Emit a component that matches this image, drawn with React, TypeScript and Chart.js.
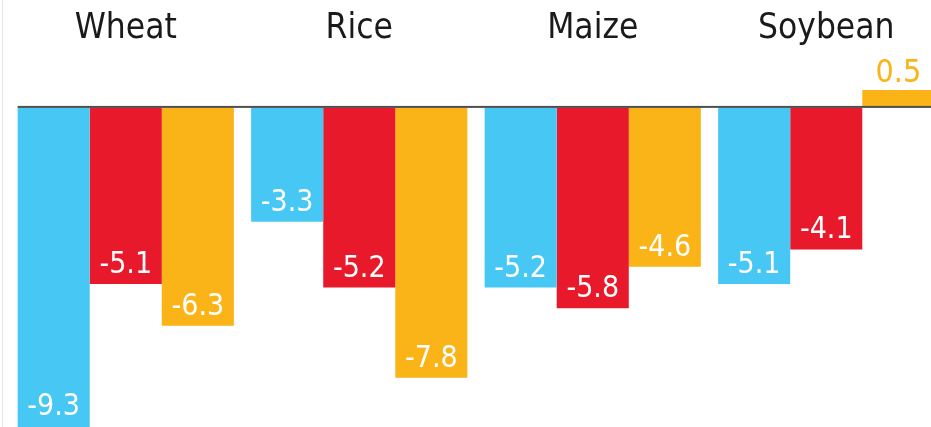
import React, { useEffect, useRef } from "react";
import { Chart, registerables } from "chart.js";

Chart.register(...registerables);

const categories = ["Wheat", "Rice", "Maize", "Soybean"];
const seriesBlue = [-9.3, -3.3, -5.2, -5.1];
const seriesRed = [-5.1, -5.2, -5.8, -4.1];
const seriesOrange = [-6.3, -7.8, -4.6, 0.5];
const seriesNames = ["Series 1", "Series 2", "Series 3"];
const seriesColors = ["#47c7f4", "#e8192a", "#fbb417"];
const yMin = -9.6;
const yMax = 3.1;

const FONT = '"DejaVu Sans Condensed", "DejaVu Sans", sans-serif';

const labelPlugin = {
  id: "customLabels",
  afterDatasetsDraw(chart: any) {
    const ctx = chart.ctx;
    const xs = chart.scales.x;
    const ys = chart.scales.y;
    const y0 = ys.getPixelForValue(0);
    ctx.save();
    // zero line
    const first = chart.getDatasetMeta(0).data[0];
    const left = first.x - first.width / 2;
    ctx.fillStyle = "#4f4f4f";
    ctx.fillRect(left, y0 - 1.5, chart.width - left, 2);

    // value labels
    ctx.textAlign = "center";
    ctx.textBaseline = "alphabetic";
    chart.data.datasets.forEach((ds: any, i: number) => {
      const meta = chart.getDatasetMeta(i);
      meta.data.forEach((bar: any, j: number) => {
        const v = ds.data[j];
        const txt = v.toFixed(1);
        if (v < 0) {
          ctx.font = `30px ${FONT}`;
          ctx.fillStyle = "#ffffff";
          ctx.fillText(txt, bar.x, Math.min(bar.y - 11, 415));
        } else {
          ctx.font = `32px ${FONT}`;
          ctx.fillStyle = seriesColors[i];
          ctx.fillText(txt, bar.x, bar.y - 8);
        }
      });
    });

    // category labels
    ctx.font = `35px ${FONT}`;
    ctx.fillStyle = "#1a1a1a";
    categories.forEach((c, i) => {
      ctx.fillText(c, xs.getPixelForValue(i), 38);
    });
    ctx.restore();
  },
};

export default function App() {
  const ref = useRef<HTMLCanvasElement>(null);
  useEffect(() => {
    if (!ref.current) return;
    const chart = new Chart(ref.current, {
      type: "bar",
      data: {
        labels: categories,
        datasets: [seriesBlue, seriesRed, seriesOrange].map((d, i) => ({
          label: seriesNames[i],
          data: d,
          backgroundColor: seriesColors[i],
          borderWidth: 0,
          barPercentage: 1,
          categoryPercentage: 0.926,
        })),
      },
      options: {
        animation: false,
        responsive: false,
        maintainAspectRatio: false,
        layout: { padding: 0 },
        plugins: {
          legend: { display: false },
          tooltip: { enabled: false },
        },
        scales: {
          x: { display: false },
          y: { display: false, min: yMin, max: yMax },
        },
      },
      plugins: [labelPlugin],
    });
    return () => chart.destroy();
  }, []);

  return (
    <div
      style={{
        position: "fixed",
        left: 0,
        top: 0,
        width: 931,
        height: 427,
        overflow: "hidden",
        background: "#ffffff",
      }}
    >
      <div
        style={{
          position: "absolute",
          left: 2,
          top: 0,
          width: 1,
          height: 427,
          background: "#e6e6e6",
        }}
      />
      <canvas
        ref={ref}
        width={934}
        height={440}
        style={{ position: "absolute", left: 9, top: 0, width: 934, height: 440 }}
      />
    </div>
  );
}
